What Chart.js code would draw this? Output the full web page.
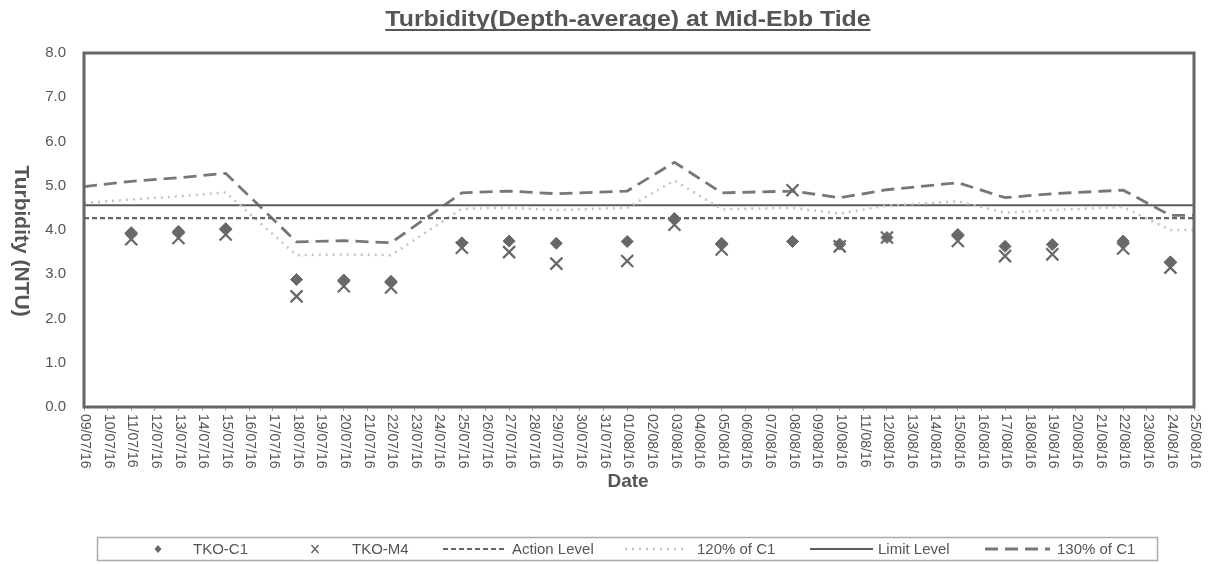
<!DOCTYPE html>
<html>
<head>
<meta charset="utf-8">
<script src="https://cdn.jsdelivr.net/npm/chart.js@4.4.1/dist/chart.umd.min.js"></script>
<style>
  body { margin: 0; background: #fff; }
  #wrap { width: 1208px; height: 564px; position: relative; }
</style>
</head>
<body>
<div id="wrap"><canvas id="turbChart"></canvas></div>
<script>
// x categories (every day of the period)
const dates = [
  '09/07/16','10/07/16','11/07/16','12/07/16','13/07/16','14/07/16','15/07/16','16/07/16',
  '17/07/16','18/07/16','19/07/16','20/07/16','21/07/16','22/07/16','23/07/16','24/07/16',
  '25/07/16','26/07/16','27/07/16','28/07/16','29/07/16','30/07/16','31/07/16','01/08/16',
  '02/08/16','03/08/16','04/08/16','05/08/16','06/08/16','07/08/16','08/08/16','09/08/16',
  '10/08/16','11/08/16','12/08/16','13/08/16','14/08/16','15/08/16','16/08/16','17/08/16',
  '18/08/16','19/08/16','20/08/16','21/08/16','22/08/16','23/08/16','24/08/16','25/08/16'
];

// monitoring days
const sampleDates = [
  '11/07/16','13/07/16','15/07/16','18/07/16','20/07/16','22/07/16','25/07/16','27/07/16',
  '29/07/16','01/08/16','03/08/16','05/08/16','08/08/16','10/08/16','12/08/16','15/08/16',
  '17/08/16','19/08/16','22/08/16','24/08/16'
];
const tkoC1 = [3.94, 3.97, 4.03, 2.88, 2.87, 2.84, 3.71, 3.75, 3.70, 3.74, 4.26, 3.70, 3.74, 3.68, 3.83, 3.90, 3.63, 3.67, 3.75, 3.28];
const tkoM4 = [3.79, 3.82, 3.90, 2.50, 2.73, 2.70, 3.60, 3.50, 3.24, 3.30, 4.12, 3.56, 4.90, 3.63, 3.83, 3.75, 3.41, 3.45, 3.58, 3.15];

// 120% / 130% of C1 lines run across the whole axis
const refDates = ['09/07/16'].concat(sampleDates, ['25/08/16']);
const pct120 = [4.61, 4.69, 4.76, 4.85, 3.43, 3.45, 3.43, 4.48, 4.50, 4.45, 4.50, 5.12, 4.47, 4.50, 4.37, 4.55, 4.65, 4.39, 4.45, 4.52, 4.00, 4.00];
const pct130 = [4.98, 5.10, 5.18, 5.28, 3.73, 3.76, 3.71, 4.84, 4.88, 4.82, 4.88, 5.53, 4.84, 4.88, 4.73, 4.91, 5.07, 4.73, 4.82, 4.90, 4.33, 4.33];

const actionLevel = 4.27;
const limitLevel = 4.56;

const yTicks = [0, 1, 2, 3, 4, 5, 6, 7, 8];

function pts(xs, ys) {
  return xs.map((d, i) => ({ x: d, y: ys[i] }));
}
function flat(v) {
  return [{ x: dates[0], y: v }, { x: dates[dates.length - 1], y: v }];
}

const txt = '#555';
const FONT = '"Liberation Sans", Arial, sans-serif';

// draws title, axis titles, rotated date labels, plot frame and boxed legend
const decor = {
  id: 'decor',
  afterDraw(chart) {
    const ctx = chart.ctx;
    const a = chart.chartArea;
    const xs = chart.scales.x;
    ctx.save();

    // title + underline (stretched a bit wider like the original)
    ctx.fillStyle = txt;
    ctx.font = 'bold 22px ' + FONT;
    const title = 'Turbidity(Depth-average) at Mid-Ebb Tide';
    const tw = ctx.measureText(title).width * 1.13;
    ctx.save();
    ctx.translate(628, 26);
    ctx.scale(1.13, 1);
    ctx.textAlign = 'center';
    ctx.textBaseline = 'alphabetic';
    ctx.fillText(title, 0, 0);
    ctx.restore();
    ctx.strokeStyle = txt;
    ctx.lineWidth = 1.8;
    ctx.beginPath();
    ctx.moveTo(628 - tw / 2, 30);
    ctx.lineTo(628 + tw / 2, 30);
    ctx.stroke();

    // y title, reads top to bottom
    ctx.save();
    ctx.translate(21, 241);
    ctx.rotate(Math.PI / 2);
    ctx.font = 'bold 21px ' + FONT;
    ctx.textAlign = 'center';
    ctx.textBaseline = 'middle';
    ctx.fillText('Turbidity (NTU)', 0, 0);
    ctx.restore();

    // x title
    ctx.font = 'bold 19px ' + FONT;
    ctx.textAlign = 'center';
    ctx.textBaseline = 'middle';
    ctx.fillText('Date', 628, 482);

    // date labels
    ctx.font = '14px ' + FONT;
    ctx.textAlign = 'left';
    ctx.textBaseline = 'middle';
    dates.forEach((d, i) => {
      const x = xs.getPixelForTick(i);
      ctx.save();
      ctx.translate(x + 1, 414);
      ctx.rotate(Math.PI / 2);
      ctx.fillText(d, 0, 0);
      ctx.restore();
    });

    // plot frame
    ctx.strokeStyle = '#666';
    ctx.lineWidth = 3;
    ctx.strokeRect(a.left, a.top, a.right - a.left, a.bottom - a.top);

    // legend
    ctx.strokeStyle = '#aaa';
    ctx.lineWidth = 1.5;
    ctx.strokeRect(97.5, 537.5, 1060, 23);
    const ly = 549;
    const items = chart.data.datasets;
    const spots = [
      { mark: 158, text: 193 },
      { mark: 315, text: 352 },
      { from: 443, to: 505, text: 512 },
      { from: 625, to: 683, text: 697 },
      { from: 810, to: 873, text: 878 },
      { from: 985, to: 1050, text: 1057 }
    ];
    ctx.font = '15px ' + FONT;
    ctx.textAlign = 'left';
    ctx.textBaseline = 'middle';
    items.forEach((ds, i) => {
      const s = spots[i];
      if (s.mark !== undefined) {
        ctx.fillStyle = ds.backgroundColor;
        ctx.strokeStyle = ds.borderColor;
        ctx.lineWidth = 1.5;
        ctx.beginPath();
        if (ds.pointStyle === 'rectRot') {
          ctx.moveTo(s.mark, ly - 4);
          ctx.lineTo(s.mark + 3.5, ly);
          ctx.lineTo(s.mark, ly + 4);
          ctx.lineTo(s.mark - 3.5, ly);
          ctx.closePath();
          ctx.fill();
        } else {
          ctx.moveTo(s.mark - 3.5, ly - 4);
          ctx.lineTo(s.mark + 3.5, ly + 4);
          ctx.moveTo(s.mark + 3.5, ly - 4);
          ctx.lineTo(s.mark - 3.5, ly + 4);
          ctx.stroke();
        }
      } else {
        ctx.strokeStyle = ds.borderColor;
        ctx.lineWidth = ds.borderWidth;
        ctx.setLineDash(ds.borderDash || []);
        ctx.beginPath();
        ctx.moveTo(s.from, ly);
        ctx.lineTo(s.to, ly);
        ctx.stroke();
        ctx.setLineDash([]);
      }
      ctx.fillStyle = txt;
      ctx.fillText(ds.label, s.text, ly + 1);
    });

    ctx.restore();
  }
};

const chart = new Chart(document.getElementById('turbChart'), {
  type: 'line',
  data: {
    labels: dates,
    datasets: [
      {
        label: 'TKO-C1',
        data: pts(sampleDates, tkoC1),
        showLine: false,
        pointStyle: 'rectRot',
        pointRadius: 6,
        backgroundColor: '#686868',
        borderColor: '#686868',
        borderWidth: 1
      },
      {
        label: 'TKO-M4',
        data: pts(sampleDates, tkoM4),
        showLine: false,
        pointStyle: 'crossRot',
        pointRadius: 8.5,
        pointBorderWidth: 2.2,
        backgroundColor: '#686868',
        borderColor: '#686868',
        borderWidth: 2
      },
      {
        label: 'Action Level',
        data: flat(actionLevel),
        borderColor: '#666',
        borderWidth: 2.2,
        borderDash: [5, 3],
        pointRadius: 0
      },
      {
        label: '120% of C1',
        data: pts(refDates, pct120),
        borderColor: '#c4c4c4',
        borderWidth: 2.5,
        borderDash: [2, 5],
        pointRadius: 0,
        tension: 0
      },
      {
        label: 'Limit Level',
        data: flat(limitLevel),
        borderColor: '#5c5c5c',
        borderWidth: 2,
        pointRadius: 0
      },
      {
        label: '130% of C1',
        data: pts(refDates, pct130),
        borderColor: '#777',
        borderWidth: 2.8,
        borderDash: [13, 7],
        pointRadius: 0,
        tension: 0
      }
    ]
  },
  options: {
    responsive: true,
    maintainAspectRatio: false,
    animation: false,
    layout: { padding: { top: 53, right: 14, bottom: 75, left: 0 } },
    plugins: {
      legend: { display: false },
      title: { display: false },
      tooltip: { enabled: false }
    },
    scales: {
      x: {
        type: 'category',
        offset: false,
        border: { display: false },
        grid: { display: true, drawOnChartArea: false, drawTicks: true, tickLength: 4, color: '#aaa' },
        ticks: { display: false, autoSkip: false },
        afterFit(scale) { scale.height = 82; }
      },
      y: {
        min: 0,
        max: 8,
        border: { display: false },
        grid: { display: false, drawTicks: false },
        afterBuildTicks(scale) { scale.ticks = yTicks.map(v => ({ value: v })); },
        ticks: {
          padding: 18,
          color: txt,
          font: { size: 15, family: FONT },
          callback: v => Number(v).toFixed(1)
        },
        afterFit(scale) { scale.width = 84; }
      }
    }
  },
  plugins: [decor]
});
</script>
</body>
</html>
